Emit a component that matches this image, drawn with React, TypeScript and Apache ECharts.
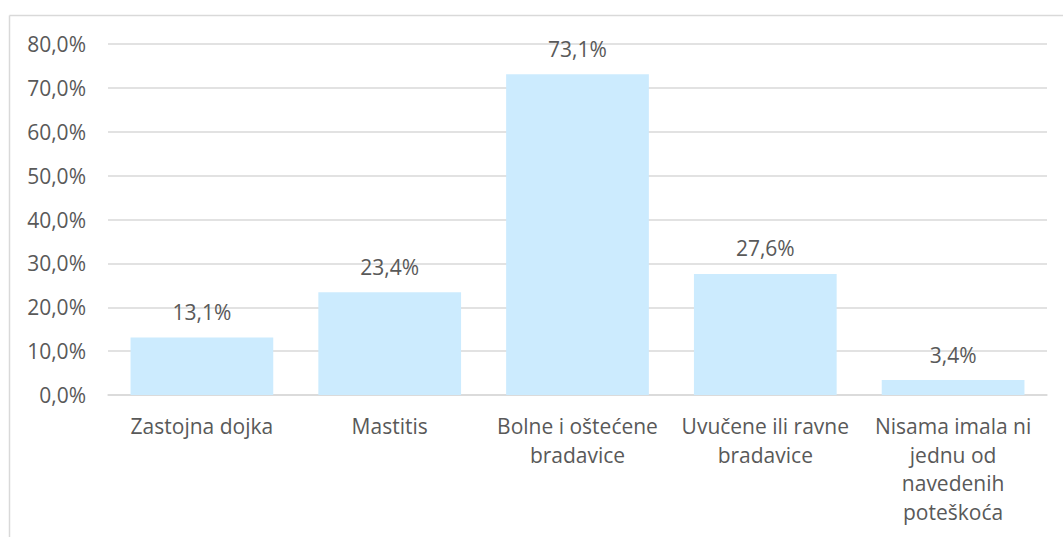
import React, { useEffect, useRef } from "react";
import * as echarts from "echarts";

const categories: string[] = [
  "Zastojna dojka",
  "Mastitis",
  "Bolne i oštećene\nbradavice",
  "Uvučene ili ravne\nbradavice",
  "Nisama imala ni\njednu od\nnavedenih\npoteškoća",
];
const values: number[] = [13.1, 23.4, 73.1, 27.6, 3.4];
const yMin = 0;
const yMax = 80;
const yInterval = 10;

const fmt = (v: number) => v.toFixed(1).replace(".", ",") + "%";

export default function App() {
  const ref = useRef<HTMLDivElement>(null);
  useEffect(() => {
    if (!ref.current) return;
    const chart = echarts.init(ref.current, undefined, { renderer: "svg" });
    const textColor = "#595959";
    const font = "'Open Sans', 'Noto Sans', sans-serif";
    chart.setOption({
      animation: false,
      backgroundColor: "#ffffff",
      textStyle: { fontFamily: font },
      graphic: [
        {
          type: "line",
          shape: { x1: 9.5, y1: 15.5, x2: 1063, y2: 15.5 },
          style: { stroke: "#D9D9D9", lineWidth: 1.5 },
          silent: true,
        },
        {
          type: "line",
          shape: { x1: 9.5, y1: 15.5, x2: 9.5, y2: 537 },
          style: { stroke: "#D9D9D9", lineWidth: 1.5 },
          silent: true,
        },
      ],
      grid: { left: 108, right: 16, top: 44, bottom: 142, containLabel: false },
      xAxis: {
        type: "category",
        data: categories,
        axisLine: { show: true, lineStyle: { color: "#D9D9D9", width: 1.5 } },
        axisTick: { show: false },
        axisLabel: {
          color: textColor,
          fontSize: 21,
          fontFamily: font,
          lineHeight: 28.5,
          margin: 17,
          interval: 0,
          align: "center",
        },
      },
      yAxis: {
        type: "value",
        min: yMin,
        max: yMax,
        interval: yInterval,
        axisLine: { show: false },
        axisTick: { show: false },
        splitLine: { lineStyle: { color: "#D9D9D9", width: 1.5 } },
        axisLabel: {
          color: textColor,
          fontSize: 21,
          fontFamily: font,
          margin: 22,
          formatter: (v: number) => fmt(v),
        },
      },
      series: [
        {
          type: "bar",
          data: values,
          barCategoryGap: "24%",
          itemStyle: { color: "#CCEBFE" },
          label: {
            show: true,
            position: "top",
            distance: 15,
            color: textColor,
            fontSize: 21,
            fontFamily: font,
            formatter: (p: any) => fmt(p.value),
          },
        },
      ],
    });
    return () => chart.dispose();
  }, []);
  return (
    <div
      ref={ref}
      style={{ position: "absolute", left: 0, top: 0, width: 1063, height: 537 }}
    />
  );
}
